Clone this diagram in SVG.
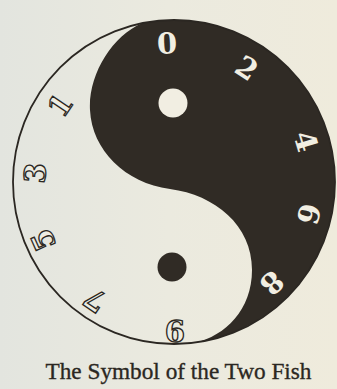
<svg xmlns="http://www.w3.org/2000/svg" width="337" height="389" viewBox="0 0 337 389">
  <defs>
    <linearGradient id="paper" x1="0" y1="0" x2="1" y2="0">
      <stop offset="0" stop-color="#e3e5df"/>
      <stop offset="0.5" stop-color="#ebeadf"/>
      <stop offset="1" stop-color="#efebdc"/>
    </linearGradient>
    <style>
      .ink { fill: #302b25; }
      .outline { fill: none; stroke: #2b2722; stroke-width: 1.8; }
      .num { font-family: "DejaVu Serif", "Liberation Serif", serif; font-weight: bold; font-size: 29px; text-anchor: middle; }
      .hollow { fill: #eeede3; stroke: #2b2722; stroke-width: 1.3; }
      .light { fill: #f1eee2; }
      .caption { font-family: "Liberation Serif", "DejaVu Serif", serif; font-size: 23.5px; fill: #2b2722; stroke: #2b2722; stroke-width: 0.35; text-anchor: middle; }
    </style>
  </defs>
  <rect width="337" height="389" fill="url(#paper)"/>
  <g id="symbol">
    <path class="ink" d="M142,23.23 C112,36 88,75 90,110 C92,150 125,183 170,189 C215,195 252,225 252,270 C252,310 225,336 195,342.62 A161,162 0 1 0 142,23.23 Z"/>
    <ellipse class="outline" cx="174" cy="182" rx="161" ry="162"/>
    <circle id="white-eye" cx="173" cy="103" r="14.5" fill="#f1eee2"/>
    <circle id="black-eye" cx="172" cy="267" r="14.5" class="ink"/>
  </g>
  <g id="dark-numbers" class="num light">
    <text transform="translate(167,43) rotate(-3)" y="10.5">0</text>
    <text transform="translate(247,68) rotate(33)" y="10.5">2</text>
    <text transform="translate(306,141) rotate(73)" y="10.5">4</text>
    <text transform="translate(309,214) rotate(105)" y="10.5">6</text>
    <text transform="translate(272,283) rotate(136)" y="10.5">8</text>
  </g>
  <g id="light-numbers" class="num hollow">
    <text transform="translate(60,105) rotate(-56)" y="10.5">1</text>
    <text transform="translate(35,173) rotate(-85)" y="10.5">3</text>
    <text transform="translate(43,240) rotate(-114)" y="10.5">5</text>
    <text transform="translate(95,300) rotate(-146)" y="10.5">7</text>
    <text transform="translate(175,330) rotate(180)" y="10.5">9</text>
  </g>
  <text id="caption" class="caption" x="178.5" y="378.5" textLength="266" lengthAdjust="spacingAndGlyphs">The Symbol of the Two Fish</text>
</svg>
